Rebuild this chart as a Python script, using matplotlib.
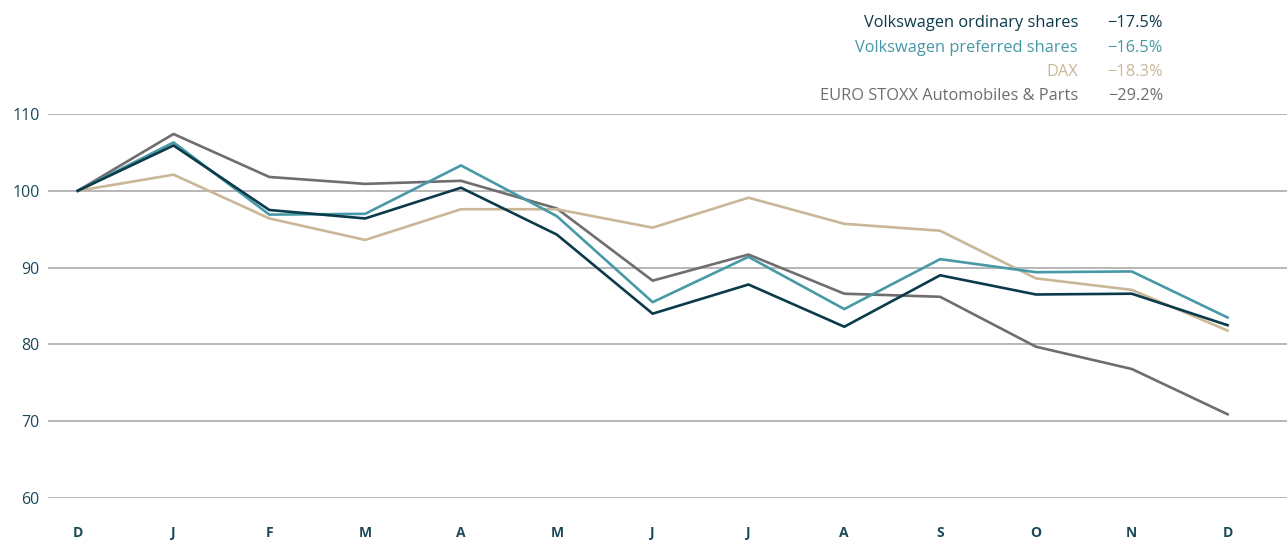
import matplotlib.pyplot as plt

# month labels (Dec to Dec)
months = ['D', 'J', 'F', 'M', 'A', 'M', 'J', 'J', 'A', 'S', 'O', 'N', 'D']

# index values, Dec = 100
vw_ordinary = [100, 105.9, 97.5, 96.4, 100.4, 94.3, 84.0, 87.8, 82.3, 89.0, 86.5, 86.6, 82.5]
vw_preferred = [100, 106.3, 96.9, 97.0, 103.3, 96.7, 85.5, 91.4, 84.6, 91.1, 89.4, 89.5, 83.5]
dax = [100, 102.1, 96.4, 93.6, 97.6, 97.6, 95.2, 99.1, 95.7, 94.8, 88.6, 87.1, 81.8]
stoxx_auto = [100, 107.4, 101.8, 100.9, 101.3, 97.7, 88.3, 91.7, 86.6, 86.2, 79.7, 76.8, 70.9]

series_names = ['Volkswagen ordinary shares', 'Volkswagen preferred shares',
                'DAX', 'EURO STOXX Automobiles & Parts']
series_changes = ['\u221217.5%', '\u221216.5%', '\u221218.3%', '\u221229.2%']

yticks = [60, 70, 80, 90, 100, 110]

c_dark = '#0b3a4b'
c_teal = '#4799a7'
c_tan = '#c9b797'
c_gray = '#6f6d6f'
c_label = '#1b4a5b'

plt.rcParams['font.family'] = ['Open Sans', 'DejaVu Sans']

fig = plt.figure(figsize=(12.87, 5.4), dpi=100)
ax = fig.add_axes([48 / 1287, 1 - 498 / 540, 1 - 48 / 1287, (498 - 114) / 540])

x = list(range(len(months)))
lw = 1.9
ax.plot(x, stoxx_auto, color=c_gray, lw=lw, zorder=3)
ax.plot(x, dax, color=c_tan, lw=lw, zorder=4)
ax.plot(x, vw_preferred, color=c_teal, lw=lw, zorder=5)
ax.plot(x, vw_ordinary, color=c_dark, lw=lw, zorder=6)

ax.set_ylim(60, 110)
ax.set_xlim(-0.31, 12.62)
ax.set_yticks(yticks)
ax.set_yticklabels([str(t) for t in yticks], fontsize=11.5, color=c_label)
ax.set_xticks(x)
ax.set_xticklabels(months, fontsize=10, fontweight='bold', color=c_label)
ax.tick_params(axis='y', length=0, pad=6)
ax.tick_params(axis='x', length=0, pad=20)
ax.yaxis.grid(True, color='#a3a3a3', lw=1.1)
ax.set_axisbelow(True)
for s in ax.spines.values():
    s.set_visible(False)

# legend as text block, top right
colors = [c_dark, c_teal, c_tan, c_gray]
row_y = [23, 48, 72, 96]
for name, chg, col, yy in zip(series_names, series_changes, colors, row_y):
    fig.text(1078 / 1287, 1 - yy / 540, name, ha='right', va='center', fontsize=11.8, color=col)
    fig.text(1163 / 1287, 1 - yy / 540, chg, ha='right', va='center', fontsize=11.8, color=col)

fig.savefig('out.png', dpi=100)
